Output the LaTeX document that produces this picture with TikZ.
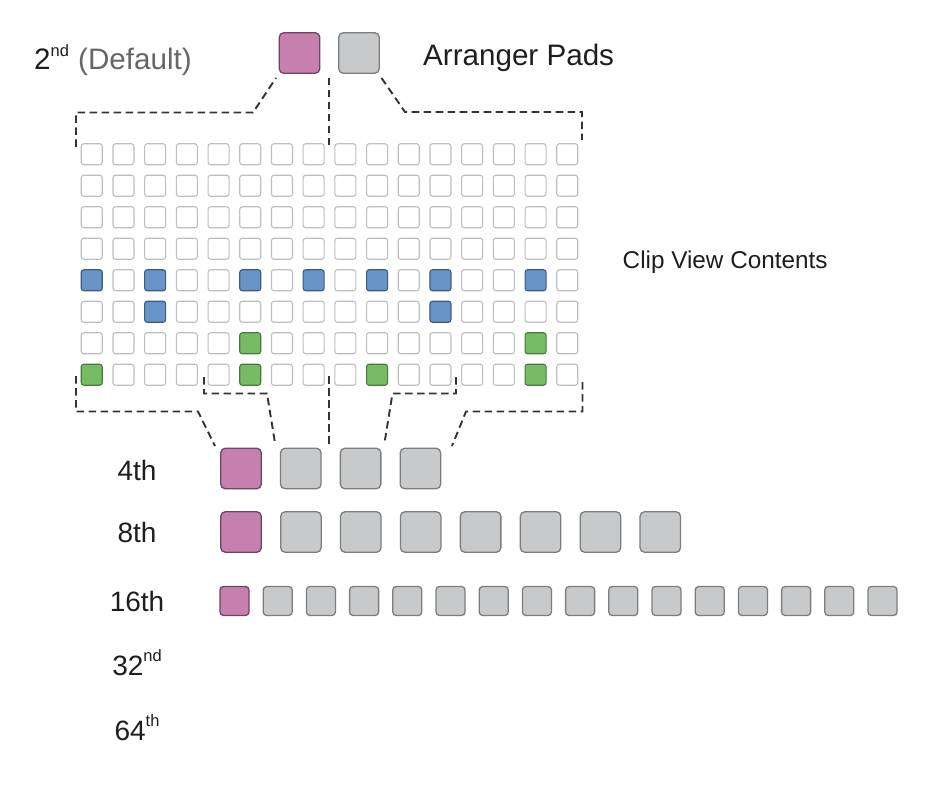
\documentclass[tikz,border=0pt]{standalone}
\usepackage{fontspec}
\setmainfont{Liberation Sans}
\definecolor{padpink}{HTML}{C580AF}
\definecolor{padpinkd}{HTML}{6E4462}
\definecolor{padgray}{HTML}{C8C9CB}
\definecolor{padgrayd}{HTML}{7D7D7D}
\definecolor{cellbd}{HTML}{BEBEBE}
\definecolor{cellblue}{HTML}{6894C8}
\definecolor{cellblued}{HTML}{3C5A82}
\definecolor{cellgreen}{HTML}{76BC64}
\definecolor{cellgreend}{HTML}{4A7840}
\definecolor{linec}{HTML}{333333}
\definecolor{txt}{HTML}{1E1E1E}
\definecolor{txtgray}{HTML}{666666}
\newcommand\supr[1]{\raisebox{13.5pt}{\fontsize{16.5}{17}\selectfont #1}}
\tikzset{
  pad/.style={rounded corners=4.5pt, line width=1.3pt, inner sep=0pt, minimum size=40.5pt},
  pinkpad/.style={pad, fill=padpink, draw=padpinkd},
  graypad/.style={pad, fill=padgray, draw=padgrayd},
  smallpink/.style={pinkpad, minimum size=29pt, rounded corners=3.5pt},
  smallgray/.style={graypad, minimum size=29pt, rounded corners=3.5pt},
  cellbase/.style={rounded corners=2.5pt, line width=1.1pt, inner sep=0pt, minimum size=21pt},
  celle/.style={cellbase, fill=white, draw=cellbd},
  cellb/.style={cellbase, fill=cellblue, draw=cellblued},
  cellg/.style={cellbase, fill=cellgreen, draw=cellgreend},
  link/.style={draw=linec, line width=1.9pt, dash pattern=on 7.5pt off 4.5pt},
  lbl/.style={font=\fontsize{28}{30}\selectfont, text=txt, inner sep=0pt},
  biglbl/.style={font=\fontsize{29.6}{31}\selectfont, text=txt, inner sep=0pt},
}
\begin{document}
\begin{tikzpicture}[x=1pt,y=-1pt]
\useasboundingbox[fill=white] (0,0) rectangle (936,786);

% header
\node[biglbl, anchor=base west] (deflbl) at (34,70) {2\supr{nd}\hspace{1pt} \textcolor{txtgray}{(Default)}};
\node[pinkpad] (apink) at (299.5,53) {};
\node[graypad] (agray) at (359,53) {};
\node[biglbl, anchor=base west] (arrlbl) at (423,66) {Arranger Pads};

% grid
\foreach \pat [count=\j from 0] in {
  {e,e,e,e,e,e,e,e,e,e,e,e,e,e,e,e},
  {e,e,e,e,e,e,e,e,e,e,e,e,e,e,e,e},
  {e,e,e,e,e,e,e,e,e,e,e,e,e,e,e,e},
  {e,e,e,e,e,e,e,e,e,e,e,e,e,e,e,e},
  {b,e,b,e,e,b,e,b,e,b,e,b,e,e,b,e},
  {e,e,b,e,e,e,e,e,e,e,e,b,e,e,e,e},
  {e,e,e,e,e,g,e,e,e,e,e,e,e,e,g,e},
  {g,e,e,e,e,g,e,e,e,g,e,e,e,e,g,e}} {
  \foreach \s [count=\i from 0] in \pat {
    \node[cell\s] (c-\j-\i) at ({91.75+31.7*\i},{154.25+31.5*\j}) {};
  }
}
\node[font=\fontsize{24.3}{26}\selectfont, text=txt, inner sep=0pt, anchor=base west] (cliplbl) at (622.5,268) {Clip View Contents};

% top connectors
\coordinate (tA1) at (76,147);   \coordinate (tA2) at (76,112.5);
\coordinate (tA3) at (253,112.5); \coordinate (tA4) at (276,78);
\draw[link] (tA1) -- (tA2) -- (tA3) -- (tA4);
\coordinate (tB1) at (329.3,78); \coordinate (tB2) at (329.3,147);
\draw[link] (tB1) -- (tB2);
\coordinate (tC1) at (381.5,78); \coordinate (tC2) at (405,112);
\coordinate (tC3) at (582,112);  \coordinate (tC4) at (582,140);
\draw[link] (tC1) -- (tC2) -- (tC3) -- (tC4);

% bottom connectors
\coordinate (bA1) at (76,376);  \coordinate (bA2) at (76,411.5);
\coordinate (bA3) at (198,411.5); \coordinate (bA4) at (215,446);
\draw[link] (bA1) -- (bA2) -- (bA3) -- (bA4);
\coordinate (bB1) at (204,377); \coordinate (bB2) at (204,393.5);
\coordinate (bB3) at (267,393.5); \coordinate (bB4) at (275,443);
\draw[link] (bB1) -- (bB2) -- (bB3) -- (bB4);
\coordinate (bC1) at (329.3,376); \coordinate (bC2) at (329.3,445);
\draw[link] (bC1) -- (bC2);
\coordinate (bD1) at (456,377); \coordinate (bD2) at (456,393.5);
\coordinate (bD3) at (392.5,393.5); \coordinate (bD4) at (384.5,443);
\draw[link] (bD1) -- (bD2) -- (bD3) -- (bD4);
\coordinate (bE1) at (582.5,382); \coordinate (bE2) at (582.5,411.5);
\coordinate (bE3) at (466,411.5); \coordinate (bE4) at (452,446);
\draw[link] (bE1) -- (bE2) -- (bE3) -- (bE4);

% rows of pads
\node[lbl, anchor=base] (l4) at (137,480) {4th};
\node[pinkpad] (r4-0) at (241,468.5) {};
\foreach \i in {1,2,3} \node[graypad] (r4-\i) at ({241+59.8*\i},468.5) {};

\node[lbl, anchor=base] (l8) at (137,542) {8th};
\node[pinkpad] (r8-0) at (241,532) {};
\foreach \i in {1,...,7} \node[graypad] (r8-\i) at ({241+59.9*\i},532) {};

\node[lbl, anchor=base] (l16) at (137,611) {16th};
\node[smallpink] (r16-0) at (234.5,601) {};
\foreach \i in {1,...,15} \node[smallgray] (r16-\i) at ({234.5+43.2*\i},601) {};

\node[lbl, anchor=base] (l32) at (137,675) {32\supr{nd}};
\node[lbl, anchor=base] (l64) at (137,740) {64\supr{th}};
\end{tikzpicture}
\end{document}
